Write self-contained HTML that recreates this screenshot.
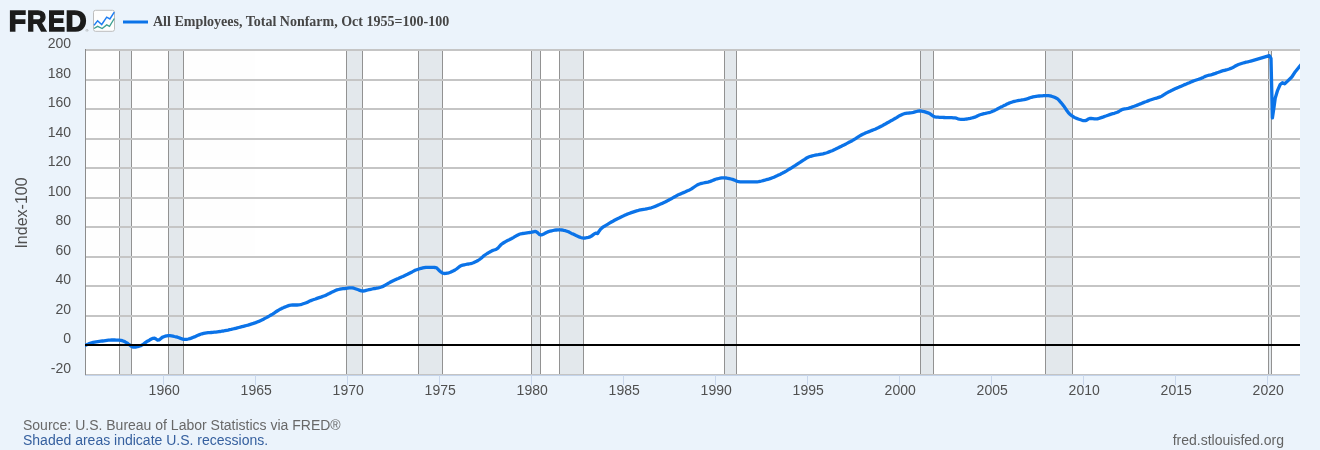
<!DOCTYPE html>
<html lang="en"><head><meta charset="utf-8"><title>FRED Graph</title>
<style>
html,body{margin:0;padding:0;background:#ebf3fb;}
body{width:1320px;height:450px;overflow:hidden;font-family:"Liberation Sans",Arial,sans-serif;}
svg{display:block;will-change:transform;opacity:0.9999}
.ax{font-family:"Liberation Sans",Arial,sans-serif;font-size:14px;fill:#505050;}
.ttl{font-family:"Liberation Serif","Times New Roman",serif;font-weight:bold;font-size:14px;fill:#464646;}
.logo{font-family:"Liberation Sans",Arial,sans-serif;font-weight:bold;font-size:100px;fill:#1c1c1c;stroke:#1c1c1c;stroke-width:5.2px;stroke-linejoin:miter;}
</style></head><body>
<svg width="1320" height="450" viewBox="0 0 1320 450">
<rect x="0" y="0" width="1320" height="450" fill="#ebf3fb"/>
<rect x="85" y="49" width="1215" height="326" fill="#ffffff"/>

<rect x="119.5" y="49" width="12.00" height="326" fill="#e3e8ec"/>
<rect x="168.5" y="49" width="15.00" height="326" fill="#e3e8ec"/>
<rect x="346.5" y="49" width="16.00" height="326" fill="#e3e8ec"/>
<rect x="418.5" y="49" width="24.00" height="326" fill="#e3e8ec"/>
<rect x="531.5" y="49" width="9.00" height="326" fill="#e3e8ec"/>
<rect x="559.5" y="49" width="24.00" height="326" fill="#e3e8ec"/>
<rect x="724.5" y="49" width="12.00" height="326" fill="#e3e8ec"/>
<rect x="920.5" y="49" width="13.00" height="326" fill="#e3e8ec"/>
<rect x="1045.5" y="49" width="27.00" height="326" fill="#e3e8ec"/>
<rect x="1268.5" y="49" width="3.00" height="326" fill="#e3e8ec"/>
<line x1="119.5" x2="119.5" y1="49" y2="374" stroke="#929292" stroke-width="1"/>
<line x1="131.5" x2="131.5" y1="49" y2="374" stroke="#929292" stroke-width="1"/>
<line x1="168.5" x2="168.5" y1="49" y2="374" stroke="#929292" stroke-width="1"/>
<line x1="183.5" x2="183.5" y1="49" y2="374" stroke="#929292" stroke-width="1"/>
<line x1="346.5" x2="346.5" y1="49" y2="374" stroke="#929292" stroke-width="1"/>
<line x1="362.5" x2="362.5" y1="49" y2="374" stroke="#929292" stroke-width="1"/>
<line x1="418.5" x2="418.5" y1="49" y2="374" stroke="#929292" stroke-width="1"/>
<line x1="442.5" x2="442.5" y1="49" y2="374" stroke="#929292" stroke-width="1"/>
<line x1="531.5" x2="531.5" y1="49" y2="374" stroke="#929292" stroke-width="1"/>
<line x1="540.5" x2="540.5" y1="49" y2="374" stroke="#929292" stroke-width="1"/>
<line x1="559.5" x2="559.5" y1="49" y2="374" stroke="#929292" stroke-width="1"/>
<line x1="583.5" x2="583.5" y1="49" y2="374" stroke="#929292" stroke-width="1"/>
<line x1="724.5" x2="724.5" y1="49" y2="374" stroke="#929292" stroke-width="1"/>
<line x1="736.5" x2="736.5" y1="49" y2="374" stroke="#929292" stroke-width="1"/>
<line x1="920.5" x2="920.5" y1="49" y2="374" stroke="#929292" stroke-width="1"/>
<line x1="933.5" x2="933.5" y1="49" y2="374" stroke="#929292" stroke-width="1"/>
<line x1="1045.5" x2="1045.5" y1="49" y2="374" stroke="#929292" stroke-width="1"/>
<line x1="1072.5" x2="1072.5" y1="49" y2="374" stroke="#929292" stroke-width="1"/>
<line x1="1268.5" x2="1268.5" y1="49" y2="374" stroke="#929292" stroke-width="1"/>
<line x1="1271.5" x2="1271.5" y1="49" y2="374" stroke="#929292" stroke-width="1"/>
<line x1="85" x2="1300" y1="50" y2="50" stroke="#c5c5c5" stroke-width="2"/>
<line x1="85" x2="1300" y1="80" y2="80" stroke="#c5c5c5" stroke-width="2"/>
<line x1="85" x2="1300" y1="109" y2="109" stroke="#c5c5c5" stroke-width="2"/>
<line x1="85" x2="1300" y1="139" y2="139" stroke="#c5c5c5" stroke-width="2"/>
<line x1="85" x2="1300" y1="168" y2="168" stroke="#c5c5c5" stroke-width="2"/>
<line x1="85" x2="1300" y1="198" y2="198" stroke="#c5c5c5" stroke-width="2"/>
<line x1="85" x2="1300" y1="227" y2="227" stroke="#c5c5c5" stroke-width="2"/>
<line x1="85" x2="1300" y1="257" y2="257" stroke="#c5c5c5" stroke-width="2"/>
<line x1="85" x2="1300" y1="286" y2="286" stroke="#c5c5c5" stroke-width="2"/>
<line x1="85" x2="1300" y1="316" y2="316" stroke="#c5c5c5" stroke-width="2"/>
<rect x="85" y="374" width="1215" height="1" fill="#c4c4c4"/>
<rect x="85" y="375" width="1215" height="1" fill="#c3d3ea"/>
<line x1="85.5" x2="85.5" y1="49" y2="375" stroke="#8c8c8c" stroke-width="1"/>
<line x1="163.5" x2="163.5" y1="375" y2="385" stroke="#c9d7ec" stroke-width="1"/>
<text class="ax" x="164.2" y="395" text-anchor="middle">1960</text>
<line x1="255.5" x2="255.5" y1="375" y2="385" stroke="#c9d7ec" stroke-width="1"/>
<text class="ax" x="256.2" y="395" text-anchor="middle">1965</text>
<line x1="347.5" x2="347.5" y1="375" y2="385" stroke="#c9d7ec" stroke-width="1"/>
<text class="ax" x="348.2" y="395" text-anchor="middle">1970</text>
<line x1="439.5" x2="439.5" y1="375" y2="385" stroke="#c9d7ec" stroke-width="1"/>
<text class="ax" x="440.2" y="395" text-anchor="middle">1975</text>
<line x1="531.5" x2="531.5" y1="375" y2="385" stroke="#c9d7ec" stroke-width="1"/>
<text class="ax" x="532.2" y="395" text-anchor="middle">1980</text>
<line x1="623.5" x2="623.5" y1="375" y2="385" stroke="#c9d7ec" stroke-width="1"/>
<text class="ax" x="624.2" y="395" text-anchor="middle">1985</text>
<line x1="715.5" x2="715.5" y1="375" y2="385" stroke="#c9d7ec" stroke-width="1"/>
<text class="ax" x="716.2" y="395" text-anchor="middle">1990</text>
<line x1="807.5" x2="807.5" y1="375" y2="385" stroke="#c9d7ec" stroke-width="1"/>
<text class="ax" x="808.2" y="395" text-anchor="middle">1995</text>
<line x1="899.5" x2="899.5" y1="375" y2="385" stroke="#c9d7ec" stroke-width="1"/>
<text class="ax" x="900.2" y="395" text-anchor="middle">2000</text>
<line x1="991.5" x2="991.5" y1="375" y2="385" stroke="#c9d7ec" stroke-width="1"/>
<text class="ax" x="992.2" y="395" text-anchor="middle">2005</text>
<line x1="1083.5" x2="1083.5" y1="375" y2="385" stroke="#c9d7ec" stroke-width="1"/>
<text class="ax" x="1084.2" y="395" text-anchor="middle">2010</text>
<line x1="1175.5" x2="1175.5" y1="375" y2="385" stroke="#c9d7ec" stroke-width="1"/>
<text class="ax" x="1176.2" y="395" text-anchor="middle">2015</text>
<line x1="1267.5" x2="1267.5" y1="375" y2="385" stroke="#c9d7ec" stroke-width="1"/>
<text class="ax" x="1268.2" y="395" text-anchor="middle">2020</text>
<text class="ax" x="71" y="48.4" text-anchor="end">200</text>
<text class="ax" x="71" y="78.4" text-anchor="end">180</text>
<text class="ax" x="71" y="107.4" text-anchor="end">160</text>
<text class="ax" x="71" y="137.4" text-anchor="end">140</text>
<text class="ax" x="71" y="166.4" text-anchor="end">120</text>
<text class="ax" x="71" y="196.4" text-anchor="end">100</text>
<text class="ax" x="71" y="225.4" text-anchor="end">80</text>
<text class="ax" x="71" y="255.4" text-anchor="end">60</text>
<text class="ax" x="71" y="284.4" text-anchor="end">40</text>
<text class="ax" x="71" y="314.4" text-anchor="end">20</text>
<text class="ax" x="71" y="373.4" text-anchor="end">-20</text>
<text class="ax" x="71" y="343.4" text-anchor="end">0</text>
<text class="ax" style="font-size:16px" transform="translate(27,213) rotate(-90)" text-anchor="middle">Index-100</text>
<clipPath id="pc"><rect x="85" y="49" width="1215" height="326"/></clipPath>
<path d="M85.5 345.2 L87.0 344.6 L88.6 343.9 L90.1 343.3 L91.6 342.8 L93.2 342.4 L94.7 342.1 L96.2 341.8 L97.8 341.6 L99.3 341.4 L100.8 341.2 L102.4 341.0 L103.9 340.8 L105.4 340.6 L107.0 340.4 L108.5 340.2 L110.0 340.1 L111.6 340.0 L113.1 340.0 L114.6 340.0 L116.2 340.1 L117.7 340.1 L119.2 340.2 L120.8 340.3 L122.3 340.7 L123.8 341.3 L125.4 342.1 L126.9 342.9 L128.4 344.1 L130.0 345.2 L131.5 346.3 L133.0 347.1 L134.6 347.2 L136.1 347.0 L137.6 346.7 L139.2 346.2 L140.7 345.7 L142.2 344.9 L143.8 343.8 L145.3 342.7 L146.8 341.6 L148.4 340.8 L149.9 339.8 L151.4 339.0 L153.0 338.3 L154.5 338.1 L156.0 339.0 L157.6 340.1 L159.1 339.9 L160.6 338.7 L162.2 337.4 L163.7 336.8 L165.2 336.2 L166.8 335.8 L168.3 335.6 L169.8 335.6 L171.4 335.8 L172.9 336.1 L174.4 336.5 L176.0 336.8 L177.5 337.2 L179.0 337.8 L180.6 338.4 L182.1 338.9 L183.6 339.3 L185.2 339.4 L186.7 339.3 L188.2 339.0 L189.8 338.6 L191.3 338.1 L192.8 337.5 L194.4 336.9 L195.9 336.2 L197.4 335.5 L199.0 334.9 L200.5 334.3 L202.0 333.8 L203.6 333.4 L205.1 333.1 L206.6 332.9 L208.2 332.7 L209.7 332.6 L211.2 332.5 L212.8 332.4 L214.3 332.2 L215.8 332.1 L217.4 331.9 L218.9 331.7 L220.4 331.5 L222.0 331.2 L223.5 331.0 L225.0 330.7 L226.6 330.4 L228.1 330.1 L229.6 329.7 L231.2 329.4 L232.7 329.0 L234.2 328.7 L235.8 328.3 L237.3 327.9 L238.8 327.5 L240.4 327.1 L241.9 326.7 L243.4 326.3 L245.0 325.9 L246.5 325.5 L248.0 325.1 L249.6 324.6 L251.1 324.1 L252.6 323.7 L254.2 323.1 L255.7 322.6 L257.2 322.0 L258.8 321.4 L260.3 320.7 L261.8 320.0 L263.4 319.2 L264.9 318.4 L266.4 317.6 L268.0 316.7 L269.5 315.9 L271.0 315.0 L272.6 314.1 L274.1 313.1 L275.6 312.0 L277.2 311.0 L278.7 310.1 L280.2 309.2 L281.8 308.4 L283.3 307.8 L284.8 307.1 L286.4 306.5 L287.9 305.9 L289.4 305.4 L290.9 305.1 L292.5 305.0 L294.0 305.0 L295.5 305.0 L297.1 305.0 L298.6 304.9 L300.1 304.7 L301.7 304.3 L303.2 303.8 L304.7 303.3 L306.3 302.7 L307.8 302.1 L309.3 301.3 L310.9 300.6 L312.4 300.0 L313.9 299.5 L315.5 299.0 L317.0 298.4 L318.5 297.9 L320.1 297.4 L321.6 296.9 L323.1 296.3 L324.7 295.7 L326.2 295.1 L327.7 294.3 L329.3 293.5 L330.8 292.7 L332.3 291.9 L333.9 291.2 L335.4 290.5 L336.9 289.9 L338.5 289.5 L340.0 289.2 L341.5 288.9 L343.1 288.7 L344.6 288.6 L346.1 288.3 L347.7 288.1 L349.2 287.9 L350.7 287.8 L352.3 287.8 L353.8 288.2 L355.3 288.7 L356.9 289.2 L358.4 289.7 L359.9 290.4 L361.5 290.9 L363.0 291.0 L364.5 290.8 L366.1 290.4 L367.6 290.0 L369.1 289.6 L370.7 289.3 L372.2 289.0 L373.7 288.7 L375.3 288.5 L376.8 288.2 L378.3 287.9 L379.9 287.5 L381.4 287.0 L382.9 286.4 L384.5 285.6 L386.0 284.7 L387.5 283.8 L389.1 282.9 L390.6 282.0 L392.1 281.2 L393.7 280.4 L395.2 279.7 L396.7 279.1 L398.3 278.4 L399.8 277.7 L401.3 277.1 L402.9 276.4 L404.4 275.7 L405.9 275.0 L407.5 274.3 L409.0 273.5 L410.5 272.7 L412.1 271.9 L413.6 271.1 L415.1 270.3 L416.7 269.7 L418.2 269.2 L419.7 268.7 L421.3 268.3 L422.8 267.9 L424.3 267.6 L425.9 267.3 L427.4 267.3 L428.9 267.3 L430.5 267.3 L432.0 267.3 L433.5 267.4 L435.1 267.5 L436.6 267.9 L438.1 269.4 L439.7 271.0 L441.2 272.2 L442.7 273.2 L444.3 273.5 L445.8 273.4 L447.3 273.1 L448.9 272.8 L450.4 272.3 L451.9 271.6 L453.5 270.8 L455.0 270.0 L456.5 269.0 L458.1 267.7 L459.6 266.5 L461.1 265.6 L462.7 265.2 L464.2 264.8 L465.7 264.5 L467.3 264.2 L468.8 264.0 L470.3 263.7 L471.9 263.3 L473.4 262.8 L474.9 262.1 L476.5 261.3 L478.0 260.5 L479.5 259.5 L481.1 258.3 L482.6 256.9 L484.1 255.6 L485.7 254.5 L487.2 253.5 L488.7 252.6 L490.3 251.7 L491.8 250.9 L493.3 250.3 L494.9 249.8 L496.4 249.2 L497.9 248.2 L499.5 246.3 L501.0 244.6 L502.5 243.5 L504.1 242.5 L505.6 241.6 L507.1 240.8 L508.7 240.1 L510.2 239.3 L511.7 238.5 L513.3 237.6 L514.8 236.7 L516.3 235.8 L517.9 235.0 L519.4 234.3 L520.9 233.8 L522.5 233.5 L524.0 233.3 L525.5 233.1 L527.1 232.9 L528.6 232.7 L530.1 232.5 L531.7 232.2 L533.2 231.8 L534.7 231.5 L536.3 231.7 L537.8 232.9 L539.3 234.4 L540.9 235.0 L542.4 234.6 L543.9 233.9 L545.5 233.0 L547.0 232.2 L548.5 231.6 L550.1 231.2 L551.6 230.8 L553.1 230.5 L554.7 230.2 L556.2 230.0 L557.7 229.8 L559.3 229.8 L560.8 229.8 L562.3 230.0 L563.9 230.4 L565.4 230.7 L566.9 231.2 L568.5 231.8 L570.0 232.6 L571.5 233.4 L573.1 234.1 L574.6 234.8 L576.1 235.5 L577.7 236.2 L579.2 236.9 L580.7 237.5 L582.3 237.9 L583.8 238.1 L585.3 238.0 L586.9 237.7 L588.4 237.4 L589.9 236.9 L591.5 236.1 L593.0 234.9 L594.5 233.7 L596.1 233.1 L597.6 233.6 L599.1 231.2 L600.7 229.1 L602.2 227.7 L603.7 226.6 L605.3 225.7 L606.8 224.8 L608.3 223.9 L609.9 222.9 L611.4 222.0 L612.9 221.2 L614.5 220.3 L616.0 219.5 L617.5 218.7 L619.1 218.0 L620.6 217.2 L622.1 216.5 L623.7 215.8 L625.2 215.1 L626.7 214.4 L628.3 213.8 L629.8 213.2 L631.3 212.6 L632.9 212.1 L634.4 211.6 L635.9 211.1 L637.5 210.7 L639.0 210.2 L640.5 209.9 L642.1 209.6 L643.6 209.3 L645.1 209.1 L646.7 208.8 L648.2 208.5 L649.7 208.2 L651.3 207.8 L652.8 207.3 L654.3 206.7 L655.9 206.1 L657.4 205.4 L658.9 204.8 L660.5 204.1 L662.0 203.4 L663.5 202.7 L665.1 202.0 L666.6 201.2 L668.1 200.4 L669.7 199.6 L671.2 198.8 L672.7 197.9 L674.3 197.0 L675.8 196.2 L677.3 195.3 L678.9 194.6 L680.4 193.9 L681.9 193.2 L683.5 192.6 L685.0 192.0 L686.5 191.3 L688.1 190.6 L689.6 189.9 L691.1 189.1 L692.6 188.1 L694.2 187.0 L695.7 186.0 L697.2 185.0 L698.8 184.2 L700.3 183.7 L701.8 183.3 L703.4 183.0 L704.9 182.7 L706.4 182.4 L708.0 182.1 L709.5 181.7 L711.0 181.1 L712.6 180.5 L714.1 179.9 L715.6 179.3 L717.2 178.8 L718.7 178.5 L720.2 178.2 L721.8 177.9 L723.3 177.8 L724.8 177.8 L726.4 178.0 L727.9 178.3 L729.4 178.6 L731.0 179.0 L732.5 179.4 L734.0 179.9 L735.6 180.6 L737.1 181.2 L738.6 181.7 L740.2 181.9 L741.7 181.9 L743.2 181.9 L744.8 181.9 L746.3 181.9 L747.8 181.9 L749.4 181.9 L750.9 181.9 L752.4 181.9 L754.0 181.9 L755.5 181.9 L757.0 181.8 L758.6 181.6 L760.1 181.3 L761.6 181.0 L763.2 180.6 L764.7 180.2 L766.2 179.7 L767.8 179.3 L769.3 178.9 L770.8 178.4 L772.4 177.8 L773.9 177.2 L775.4 176.5 L777.0 175.8 L778.5 175.1 L780.0 174.4 L781.6 173.6 L783.1 172.8 L784.6 172.0 L786.2 171.1 L787.7 170.2 L789.2 169.2 L790.8 168.3 L792.3 167.3 L793.8 166.3 L795.4 165.3 L796.9 164.3 L798.4 163.3 L800.0 162.3 L801.5 161.3 L803.0 160.3 L804.6 159.3 L806.1 158.3 L807.6 157.5 L809.2 156.8 L810.7 156.3 L812.2 155.9 L813.8 155.5 L815.3 155.2 L816.8 154.9 L818.4 154.7 L819.9 154.4 L821.4 154.1 L823.0 153.8 L824.5 153.4 L826.0 153.0 L827.6 152.5 L829.1 151.9 L830.6 151.3 L832.2 150.7 L833.7 150.0 L835.2 149.3 L836.8 148.5 L838.3 147.8 L839.8 147.0 L841.4 146.2 L842.9 145.4 L844.4 144.7 L846.0 143.9 L847.5 143.1 L849.0 142.3 L850.6 141.5 L852.1 140.7 L853.6 139.8 L855.2 138.9 L856.7 137.9 L858.2 136.9 L859.8 135.9 L861.3 135.0 L862.8 134.2 L864.4 133.5 L865.9 132.8 L867.4 132.2 L869.0 131.6 L870.5 131.0 L872.0 130.4 L873.6 129.8 L875.1 129.2 L876.6 128.5 L878.2 127.8 L879.7 127.0 L881.2 126.2 L882.8 125.4 L884.3 124.5 L885.8 123.7 L887.4 122.8 L888.9 122.0 L890.4 121.1 L892.0 120.3 L893.5 119.4 L895.0 118.5 L896.6 117.6 L898.1 116.6 L899.6 115.7 L901.2 114.9 L902.7 114.2 L904.2 113.7 L905.8 113.4 L907.3 113.1 L908.8 113.0 L910.4 112.8 L911.9 112.6 L913.4 112.3 L915.0 111.9 L916.5 111.5 L918.0 111.2 L919.6 111.0 L921.1 111.0 L922.6 111.3 L924.2 111.6 L925.7 112.1 L927.2 112.6 L928.8 113.1 L930.3 114.0 L931.8 115.1 L933.4 116.3 L934.9 116.9 L936.4 117.1 L938.0 117.2 L939.5 117.3 L941.0 117.4 L942.6 117.4 L944.1 117.5 L945.6 117.6 L947.2 117.6 L948.7 117.6 L950.2 117.7 L951.8 117.7 L953.3 117.8 L954.8 117.9 L956.4 118.2 L957.9 118.8 L959.4 119.1 L961.0 119.3 L962.5 119.4 L964.0 119.4 L965.6 119.2 L967.1 119.0 L968.6 118.7 L970.2 118.4 L971.7 118.0 L973.2 117.6 L974.8 117.2 L976.3 116.5 L977.8 115.7 L979.4 115.0 L980.9 114.5 L982.4 114.1 L984.0 113.7 L985.5 113.4 L987.0 113.0 L988.6 112.7 L990.1 112.3 L991.6 111.8 L993.2 111.1 L994.7 110.4 L996.2 109.6 L997.8 108.7 L999.3 107.9 L1000.8 107.1 L1002.4 106.4 L1003.9 105.6 L1005.4 104.9 L1007.0 104.1 L1008.5 103.4 L1010.0 102.8 L1011.6 102.2 L1013.1 101.7 L1014.6 101.3 L1016.2 101.0 L1017.7 100.7 L1019.2 100.4 L1020.8 100.2 L1022.3 99.9 L1023.8 99.7 L1025.4 99.3 L1026.9 98.9 L1028.4 98.4 L1030.0 97.8 L1031.5 97.3 L1033.0 96.9 L1034.6 96.6 L1036.1 96.4 L1037.6 96.2 L1039.2 96.0 L1040.7 95.9 L1042.2 95.8 L1043.8 95.7 L1045.3 95.6 L1046.8 95.6 L1048.4 95.6 L1049.9 95.8 L1051.4 96.2 L1053.0 96.7 L1054.5 97.3 L1056.0 98.0 L1057.6 98.9 L1059.1 100.4 L1060.6 102.2 L1062.2 104.0 L1063.7 105.9 L1065.2 108.1 L1066.8 110.5 L1068.3 112.6 L1069.8 114.2 L1071.4 115.4 L1072.9 116.5 L1074.4 117.4 L1076.0 118.1 L1077.5 118.7 L1079.0 119.3 L1080.6 119.8 L1082.1 120.3 L1083.6 120.6 L1085.2 120.7 L1086.7 120.1 L1088.2 119.1 L1089.8 118.4 L1091.3 118.5 L1092.8 118.6 L1094.4 118.8 L1095.9 118.9 L1097.4 118.8 L1098.9 118.4 L1100.5 117.9 L1102.0 117.4 L1103.5 116.9 L1105.1 116.3 L1106.6 115.8 L1108.1 115.2 L1109.7 114.6 L1111.2 114.1 L1112.7 113.7 L1114.3 113.3 L1115.8 112.8 L1117.3 112.3 L1118.9 111.5 L1120.4 110.5 L1121.9 109.6 L1123.5 109.1 L1125.0 108.8 L1126.5 108.6 L1128.1 108.3 L1129.6 107.9 L1131.1 107.4 L1132.7 106.8 L1134.2 106.3 L1135.7 105.7 L1137.3 105.1 L1138.8 104.5 L1140.3 103.9 L1141.9 103.2 L1143.4 102.6 L1144.9 102.0 L1146.5 101.5 L1148.0 100.9 L1149.5 100.3 L1151.1 99.8 L1152.6 99.3 L1154.1 98.8 L1155.7 98.3 L1157.2 97.9 L1158.7 97.4 L1160.3 96.9 L1161.8 96.1 L1163.3 95.1 L1164.9 94.1 L1166.4 93.2 L1167.9 92.3 L1169.5 91.6 L1171.0 90.8 L1172.5 90.1 L1174.1 89.3 L1175.6 88.6 L1177.1 87.9 L1178.7 87.3 L1180.2 86.6 L1181.7 86.0 L1183.3 85.3 L1184.8 84.6 L1186.3 84.0 L1187.9 83.3 L1189.4 82.7 L1190.9 82.0 L1192.5 81.4 L1194.0 80.8 L1195.5 80.3 L1197.1 79.8 L1198.6 79.3 L1200.1 78.7 L1201.7 78.1 L1203.2 77.4 L1204.7 76.6 L1206.3 76.0 L1207.8 75.5 L1209.3 75.1 L1210.9 74.8 L1212.4 74.4 L1213.9 73.9 L1215.5 73.4 L1217.0 72.8 L1218.5 72.3 L1220.1 71.7 L1221.6 71.1 L1223.1 70.7 L1224.7 70.3 L1226.2 69.9 L1227.7 69.5 L1229.3 69.0 L1230.8 68.4 L1232.3 67.7 L1233.9 66.9 L1235.4 66.0 L1236.9 65.2 L1238.5 64.5 L1240.0 64.0 L1241.5 63.5 L1243.1 63.0 L1244.6 62.6 L1246.1 62.2 L1247.7 61.9 L1249.2 61.5 L1250.7 61.1 L1252.5 60.6 L1269.3 55.7 L1271.0 58.3 L1272.4 117.9 L1274.0 107.2 L1275.2 98.3 L1277.6 90.3 L1280.2 84.5 L1282.4 82.7 L1284.7 83.8 L1287.3 81.4 L1291.8 77.0 L1295.3 71.7 L1300.5 65.2" clip-path="url(#pc)" fill="none" stroke="#0b73e8" stroke-width="3.3" stroke-linejoin="round" stroke-linecap="round"/>
<line x1="85" x2="1300" y1="345" y2="345" stroke="#000" stroke-width="2"/>
<text class="logo" transform="translate(8.75,30.80) scale(0.2832,0.2907)" x="0" y="0">F</text>
<text class="logo" transform="translate(27.04,30.80) scale(0.2692,0.2907)" x="0" y="0">R</text>
<text class="logo" transform="translate(48.05,30.80) scale(0.2541,0.2907)" x="0" y="0">E</text>
<text class="logo" transform="translate(65.49,30.80) scale(0.2917,0.2907)" x="0" y="0">D</text>
<text x="85.4" y="32" font-size="4" fill="#777" font-family="Liberation Sans,Arial,sans-serif">®</text>
<rect x="93.5" y="10.3" width="21" height="21" rx="2" ry="2" fill="#ffffff" stroke="#bdbdbd" stroke-width="1"/>
<polyline points="94,25.4 97.6,20.8 101.7,24.5 106.7,17.2 109.9,19 114.3,12.2" fill="none" stroke="#1f7ef2" stroke-width="1.5"/>
<polyline points="94,28.5 97.6,26.3 102.2,28.5 106.7,24.9 109.5,26.3 114.3,18.5" fill="none" stroke="#3fa092" stroke-width="1.35"/>
<line x1="123" x2="148" y1="22" y2="22" stroke="#0b73e8" stroke-width="3"/>
<text class="ttl" x="153" y="26">All Employees, Total Nonfarm, Oct 1955=100-100</text>
<text class="ax" x="23" y="429.6" style="fill:#686868">Source: U.S. Bureau of Labor Statistics via FRED®</text>
<text class="ax" x="23" y="444.8" style="fill:#36609f">Shaded areas indicate U.S. recessions.</text>
<text class="ax" x="1284" y="445.3" text-anchor="end" style="fill:#646464">fred.stlouisfed.org</text>
</svg></body></html>
